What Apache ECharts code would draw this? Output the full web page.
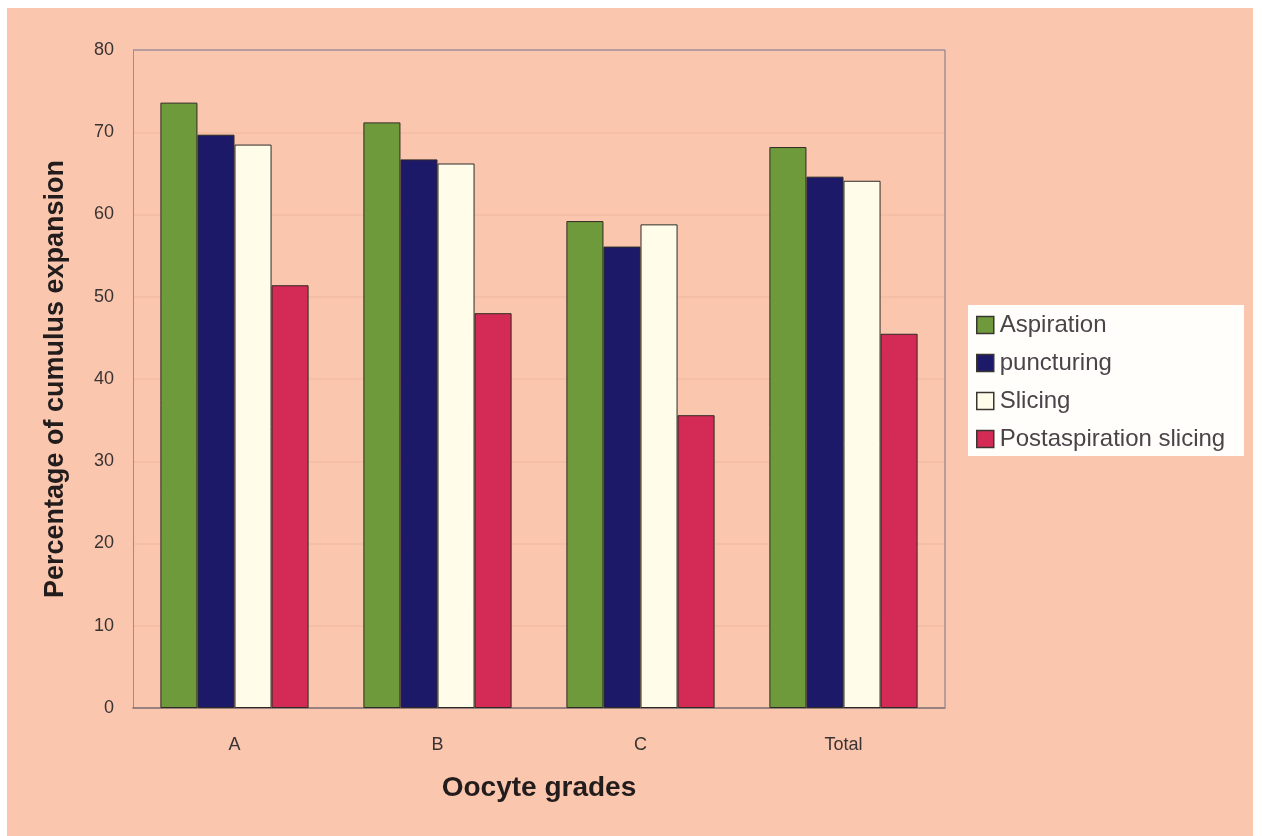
<!DOCTYPE html>
<html>
<head>
<meta charset="utf-8">
<script src="https://cdn.jsdelivr.net/npm/echarts@6/dist/echarts.min.js"></script>
<style>
  html, body { margin: 0; padding: 0; background: #ffffff; }
  #chart { width: 1262px; height: 836px; }
</style>
</head>
<body>
<div id="chart"></div>
<script>
// Cumulus expansion (%) by oocyte grade and retrieval method
const categories = ['A', 'B', 'C', 'Total'];
const aspiration = [73.6, 71.2, 59.2, 68.2];
const puncturing = [69.7, 66.7, 56.1, 64.6];
const slicing = [68.5, 66.2, 58.8, 64.1];
const postaspirationSlicing = [51.4, 48.0, 35.6, 45.5];
const yTicks = [0, 10, 20, 30, 40, 50, 60, 70, 80];

const seriesDefs = [
  { name: 'Aspiration', data: aspiration, color: '#6f9a3c' },
  { name: 'puncturing', data: puncturing, color: '#1c1a68' },
  { name: 'Slicing', data: slicing, color: '#fffdea' },
  { name: 'Postaspiration slicing', data: postaspirationSlicing, color: '#d42b56' }
];

const chart = echarts.init(document.getElementById('chart'), null, { renderer: 'canvas' });

const textColor = '#3a3333';
const titleColor = '#221c1c';
const fontFamily = 'Liberation Sans, Arial, sans-serif';

// plot area
const plotLeft = 133, plotTop = 50, plotWidth = 812, plotHeight = 658;

chart.setOption({
  animation: false,
  backgroundColor: '#ffffff',
  graphic: [
    {
      // page panel
      type: 'rect',
      z: -10,
      shape: { x: 7, y: 8, width: 1246, height: 828 },
      style: { fill: '#fac6ad' }
    },
    {
      // legend box
      type: 'rect',
      z: -9,
      shape: { x: 968, y: 305, width: 276, height: 151 },
      style: { fill: '#fffefb' }
    },
    {
      // right edge of the plot frame
      type: 'line',
      z: 5,
      shape: { x1: plotLeft + plotWidth, y1: plotTop, x2: plotLeft + plotWidth, y2: plotTop + plotHeight },
      style: { stroke: '#a0909a', lineWidth: 1.5 }
    }
  ],
  grid: { left: plotLeft, top: plotTop, width: plotWidth, height: plotHeight, containLabel: false },
  legend: {
    orient: 'vertical',
    left: 976,
    top: 312,
    padding: 0,
    itemWidth: 17,
    itemHeight: 17,
    itemGap: 12,
    icon: 'rect',
    textStyle: { color: '#4a4448', fontSize: 24, lineHeight: 26, fontFamily: fontFamily, padding: [0, 0, 0, 1] },
    itemStyle: { borderColor: '#3a3530', borderWidth: 1.5 },
    data: seriesDefs.map(s => s.name)
  },
  xAxis: {
    type: 'category',
    data: categories,
    name: 'Oocyte grades',
    nameLocation: 'middle',
    nameGap: 66,
    nameTextStyle: { color: titleColor, fontSize: 28, fontWeight: 'bold', fontFamily: fontFamily },
    axisLine: { show: true, lineStyle: { color: '#7a6e72', width: 1.5 } },
    axisTick: { show: false },
    axisLabel: { color: textColor, fontSize: 18, margin: 28, fontFamily: fontFamily },
    splitLine: { show: false }
  },
  yAxis: {
    type: 'value',
    min: yTicks[0],
    max: yTicks[yTicks.length - 1],
    interval: 10,
    name: 'Percentage of cumulus expansion',
    nameLocation: 'middle',
    nameGap: 64,
    nameTextStyle: { color: titleColor, fontSize: 27, fontWeight: 'bold', fontFamily: fontFamily },
    axisLine: { show: true, lineStyle: { color: '#9a8c90', width: 1 } },
    axisTick: { show: false },
    axisLabel: { color: textColor, fontSize: 18, margin: 19, fontFamily: fontFamily },
    splitLine: { show: true, lineStyle: { color: '#f3bda4', width: 1.5 } }
  },
  series: seriesDefs.map(s => ({
    name: s.name,
    type: 'bar',
    data: s.data,
    barGap: '0%',
    barCategoryGap: '27%',
    itemStyle: { color: s.color, borderColor: '#2e2a24', borderWidth: 1 }
  })).concat([{
    // top edge of the plot frame
    type: 'line',
    data: [],
    markLine: {
      silent: true,
      symbol: 'none',
      label: { show: false },
      lineStyle: { color: '#a0909a', type: 'solid', width: 1.5 },
      data: [{ yAxis: yTicks[yTicks.length - 1] }]
    }
  }])
});
</script>
</body>
</html>
